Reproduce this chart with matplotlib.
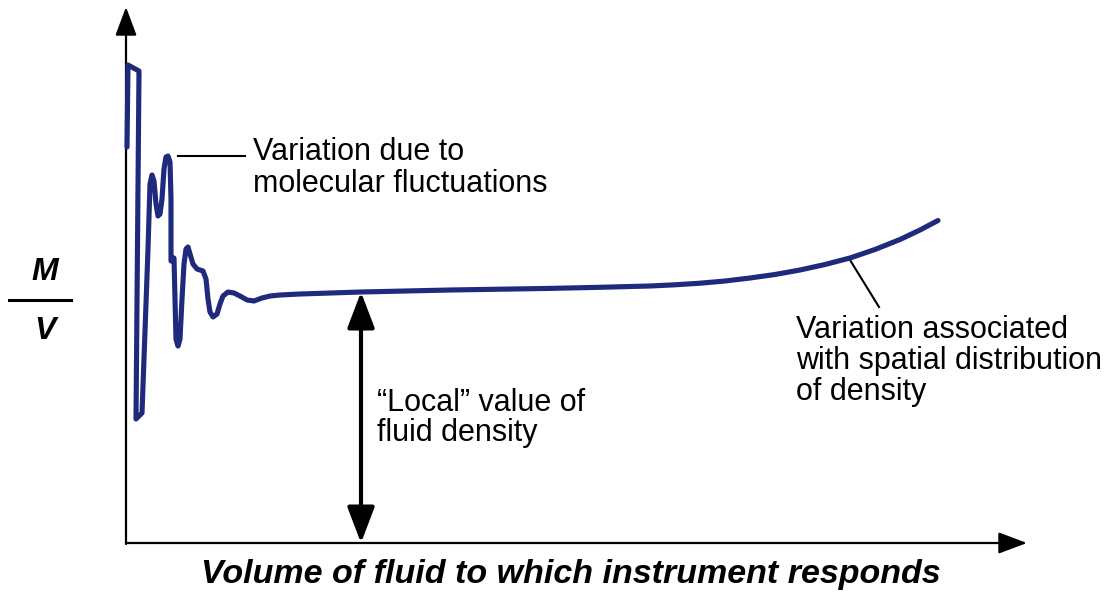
import numpy as np
import matplotlib.pyplot as plt

# instrument volume (x) and measured M/V (y), in drawing units
volume = [1, 2, 13, 10, 16, 22, 24, 26, 28, 30, 32, 34, 36, 38, 40, 42, 44, 45,
          45, 48, 49, 50, 52, 54, 56, 58, 60, 62, 64, 67, 71, 77, 80, 82, 84, 87,
          91, 94, 97, 102, 108, 114, 121, 128, 136, 144, 154, 174, 235, 324, 424,
          474, 524, 549, 574, 599, 624, 649, 674, 699, 724, 749, 774, 794, 812]
density = [397, 479, 473, 125, 131, 295, 360, 369, 363, 340, 328, 330, 345, 375,
           387, 388, 382, 345, 283, 286, 245, 205, 198, 205, 245, 280, 295, 297,
           290, 280, 275, 273, 265, 245, 232, 227, 230, 240, 248, 252, 251, 248,
           244, 243, 246, 248, 249, 250, 252, 254, 255.6,
           256.7, 258, 259.2, 260.8, 263, 266, 269.5, 274, 279.5, 286, 294.5,
           304.5, 314, 323.5]

local_x = 235
local_y = 252

curve_color = '#1f2a7c'
plt.rcParams['font.family'] = ['Liberation Sans', 'DejaVu Sans']

fig = plt.figure(figsize=(11.18, 5.92), dpi=100)
ax = fig.add_axes([0, 0, 1, 1])
ax.set_xlim(-126, 992)
ax.set_ylim(-48, 544)
ax.axis('off')

# axes with arrow heads
axis_arrow = dict(arrowstyle='-|>,head_length=0.8,head_width=0.3', lw=1.6,
                  color='black', mutation_scale=22, shrinkA=0, shrinkB=0)
ax.annotate('', xy=(0, 537), xytext=(0, 0), arrowprops=axis_arrow)
ax.annotate('', xy=(901, 1), xytext=(0, 1), arrowprops=axis_arrow)

# measured curve
ax.plot(volume, density, color=curve_color, lw=3.7, solid_joinstyle='round',
        solid_capstyle='round', zorder=3)

# local value arrow
ax.annotate('', xy=(local_x, local_y), xytext=(local_x, 1),
            arrowprops=dict(arrowstyle='<|-|>,head_length=1.0,head_width=0.38',
                            lw=3, color='black', mutation_scale=22,
                            shrinkA=0, shrinkB=0))

# leader lines
ax.plot([52, 119], [388, 388], color='black', lw=1.5)
ax.plot([724, 753], [284, 237], color='black', lw=1.5)

ax.text(127, 376, 'Variation due to\nmolecular fluctuations', va='center', ha='left',
        fontsize=22, linespacing=1.1)
ax.text(251, 126, '\u201cLocal\u201d value of\nfluid density', va='center', ha='left',
        fontsize=22, linespacing=0.97)
ax.text(670, 183, 'Variation associated\nwith spatial distribution\nof density',
        va='center', ha='left', fontsize=22, linespacing=1.05)

# M / V label
ax.text(-81, 272, 'M', fontsize=23, fontweight='bold', fontstyle='italic',
        ha='center', va='center')
ax.plot([-117, -55], [244, 244], color='black', lw=2.2)
ax.text(-81, 213, 'V', fontsize=23, fontweight='bold', fontstyle='italic',
        ha='center', va='center')

ax.text(445, -31, 'Volume of fluid to which instrument responds', fontsize=24.5,
        fontweight='bold', fontstyle='italic', ha='center', va='center')

fig.savefig('out.png', dpi=100)
